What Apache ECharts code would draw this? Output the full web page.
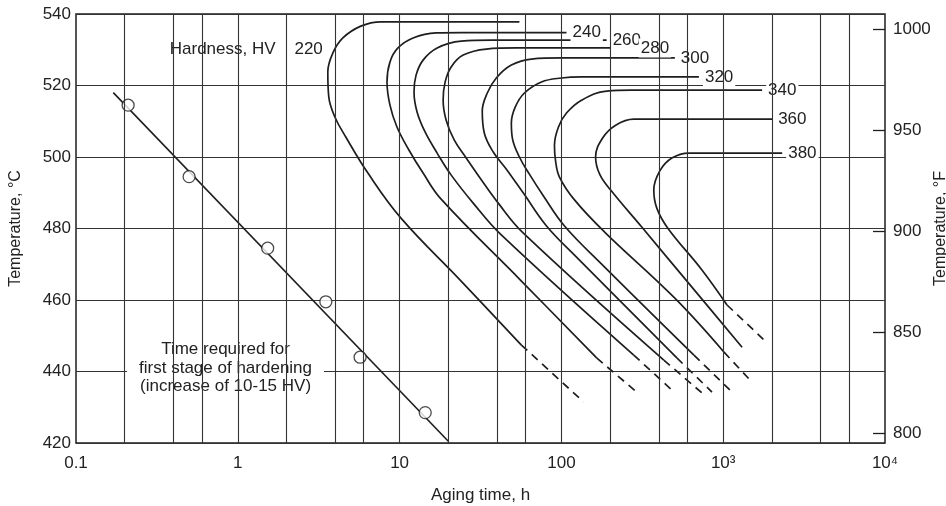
<!DOCTYPE html>
<html><head><meta charset="utf-8">
<script src="https://cdn.jsdelivr.net/npm/echarts@6/dist/echarts.min.js"></script>
<style>html,body{margin:0;padding:0;background:#fff}#c{width:946px;height:506px}</style>
</head><body><div id="c"></div>
<script>
// ---------- tick labels / axis values ----------
const xTickLabels = ['0.1', '1', '10', '100', '10³', '10⁴'];
const xGridValues = [0.2, 0.4, 0.6, 1, 2, 4, 6, 10, 20, 40, 60, 100, 200, 400, 600, 1000, 2000, 4000, 6000];
const fahrenheitTicks = [800, 850, 900, 950, 1000];
const hardnessTitle = 'Hardness, HV';
const noteLines = ['Time required for', 'first stage of hardening', '(increase of 10-15 HV)'];

// ---------- first stage of hardening ----------
const firstStageLineTime = [0.17, 20];
const firstStageLineTemp = [518, 420.5];
const firstStagePointTime = [0.21, 0.5, 1.53, 3.5, 5.7, 14.4];
const firstStagePointTemp = [514.5, 494.5, 474.5, 459.5, 444, 428.5];

// ---------- iso-hardness curves (from lower leg up to the top plateau) ----------
const c220Time = [56.6, 24.0, 10.2, 6.37, 4.65, 3.98, 3.65, 3.60, 3.87, 4.46, 5.76, 7.67, 13.6, 55];
const c220Temp = [447.4, 465.3, 482.9, 495.5, 505.6, 511.2, 516.8, 523.8, 529.1, 533.3, 536.6, 537.8, 537.8, 537.8];
const c220DashTime = [56.6, 137];
const c220DashTemp = [447.4, 431.5];

const c240Time = [165.1, 56.6, 18.06, 13.97, 11.44, 9.63, 8.72, 8.36, 8.72, 9.77, 12.11, 16.81, 24.03, 107.5];
const c240Temp = [443.8, 465.3, 488.2, 495.5, 501.9, 508.4, 514.5, 521.0, 526.6, 530.5, 533.3, 534.7, 534.8, 534.8];
const c240DashTime = [165.1, 296.3];
const c240DashTemp = [443.8, 434.0];

const c260Time = [279.9, 42.5, 28.5, 20.8, 17.06, 14.37, 12.82, 12.28, 12.64, 13.97, 17.06, 24.03, 36.9, 190.4];
const c260Temp = [444.6, 478.2, 487.1, 495.0, 501.1, 507.0, 512.6, 518.2, 522.9, 527.1, 530.5, 532.4, 532.7, 532.7];
const c260DashTime = [279.9, 481.6];
const c260DashTemp = [444.6, 434.8];

const c280Time = [429.5, 58.2, 40.7, 31.1, 25.8, 21.74, 19.40, 18.58, 19.12, 20.83, 24.72, 34.3, 52.7, 284.0];
const c280Temp = [443.2, 478.7, 487.1, 494.4, 499.7, 504.8, 510.3, 515.9, 521.0, 525.2, 528.5, 530.2, 530.5, 530.5];
const c280DashTime = [429.5, 738.9];
const c280DashTemp = [443.2, 434.0];

const c300Time = [517.0, 124.0, 80.9, 58.2, 45.7, 37.9, 33.37, 32.43, 34.83, 39.6, 49.05, 65.3, 100.1, 502.5];
const c300Temp = [443.8, 472.0, 480.7, 489.9, 496.6, 501.4, 506.7, 512.85, 517.9, 522.1, 525.7, 527.4, 527.7, 527.7];
const c300DashTime = [517.0, 852.3];
const c300DashTemp = [443.8, 434.25];

const c320Time = [659.2, 177.3, 104.5, 77.45, 63.4, 55.0, 49.76, 49.05, 51.9, 59.06, 75.3, 100.1, 133.2, 707.9];
const c320Temp = [444.6, 470.05, 480.7, 489.1, 495.2, 500.0, 505.3, 509.5, 514.0, 517.9, 521.0, 522.1, 522.4, 522.4];
const c320DashTime = [659.2, 1102];
const c320DashTemp = [444.6, 434.8];

const c340Time = [1012, 502.5, 185.0, 120.5, 97.3, 91.9, 90.6, 95.9, 107.5, 133.2, 190.4, 272.0, 1740];
const c340Temp = [445.4, 460.5, 479.0, 488.0, 494.4, 499.1, 503.3, 508.4, 512.3, 515.9, 518.45, 518.7, 518.7];
const c340DashTime = [1012, 1466];
const c340DashTemp = [445.4, 437.6];

const c360Time = [1308, 640.7, 313.8, 201.6, 172.3, 162.7, 179.8, 216.5, 279.9, 361.9, 2007];
const c360Temp = [446.8, 463.6, 480.4, 490.75, 495.2, 500.0, 505.3, 508.9, 510.6, 510.6, 510.6];
const c360DashTime = [];
const c360DashTemp = [];

const c380Time = [1056, 738.9, 454.8, 388.7, 372.4, 405.7, 481.6, 613.8, 738.9, 2315];
const c380Temp = [458.6, 468.4, 480.1, 485.7, 490.75, 496.1, 499.7, 501.1, 501.1, 501.1];
const c380DashTime = [1056, 1869];
const c380DashTemp = [458.6, 448.0];

const hardnessLevels = ['220', '240', '260', '280', '300', '320', '340', '360', '380'];
const curveTimes = [c220Time, c240Time, c260Time, c280Time, c300Time, c320Time, c340Time, c360Time, c380Time];
const curveTemps = [c220Temp, c240Temp, c260Temp, c280Temp, c300Temp, c320Temp, c340Temp, c360Temp, c380Temp];
const dashTimes = [c220DashTime, c240DashTime, c260DashTime, c280DashTime, c300DashTime, c320DashTime, c340DashTime, c360DashTime, c380DashTime];
const dashTemps = [c220DashTemp, c240DashTemp, c260DashTemp, c280DashTemp, c300DashTemp, c320DashTemp, c340DashTemp, c360DashTemp, c380DashTemp];

// ---------- chart ----------
const FONT = '"Liberation Sans", Arial, Helvetica, sans-serif';
const INK = '#1e1e1e';
const TXT = '#222';
const zip = (a, b) => a.map((v, i) => [v, b[i]]);
const plainText = { textBorderWidth: 0, textBorderColor: 'transparent', textShadowBlur: 0, textShadowColor: 'transparent', opacity: 1 };

const series = [];
// vertical grid lines (1-2-4-6 pattern)
series.push({
  type: 'line', data: [[1, 480]], showSymbol: false, lineStyle: { opacity: 0 }, silent: true, z: 1,
  markLine: {
    silent: true, symbol: ['none', 'none'], label: { show: false },
    lineStyle: { color: '#333', width: 1.1, type: 'solid' },
    data: xGridValues.map(v => ({ xAxis: v }))
  }
});
// text annotations with white boxes breaking the grid
series.push({
  type: 'scatter', z: 2, symbolSize: 0, silent: true, itemStyle: { color: TXT },
  data: [
    { value: [3.45, 530.2], label: Object.assign({ show: true, position: 'left', distance: 0,
      formatter: hardnessTitle + '    ' + hardnessLevels[0], fontSize: 17, color: TXT, fontFamily: FONT,
      backgroundColor: '#fff', padding: [13, 2, 9, 12] }, plainText) },
    { value: [0.84, 441], label: Object.assign({ show: true, position: 'inside', align: 'center', verticalAlign: 'middle',
      formatter: noteLines.join('\n'), fontSize: 17, lineHeight: 18.5, color: TXT, fontFamily: FONT,
      backgroundColor: '#fff', padding: [13, 12, 8, 12] }, plainText) }
  ]
});
// curves
hardnessLevels.forEach((h, i) => {
  series.push({
    type: 'line', name: h, data: zip(curveTimes[i], curveTemps[i]), smooth: 0.4,
    showSymbol: false, silent: true, z: 3,
    lineStyle: { color: INK, width: 1.7 },
    endLabel: i === 0 ? { show: false } : Object.assign({
      show: true, formatter: h, distance: 4, fontSize: 17, color: TXT, fontFamily: FONT,
      backgroundColor: '#fff', padding: [1, 2]
    }, plainText)
  });
  if (dashTimes[i].length) {
    series.push({
      type: 'line', data: zip(dashTimes[i], dashTemps[i]), showSymbol: false, silent: true, z: 3,
      lineStyle: { color: INK, width: 1.7, type: [8, 6] }
    });
  }
});
// first stage line + circles
series.push({
  type: 'line', data: zip(firstStageLineTime, firstStageLineTemp), showSymbol: false, silent: true, z: 3,
  lineStyle: { color: INK, width: 1.6 }
});
series.push({
  type: 'scatter', data: zip(firstStagePointTime, firstStagePointTemp), symbol: 'circle', symbolSize: 12,
  silent: true, z: 4, itemStyle: { color: '#fff', borderColor: INK, borderWidth: 1.3 }
});

const option = {
  animation: false,
  backgroundColor: '#fff',
  textStyle: { fontFamily: FONT },
  grid: { left: 76, right: 61, top: 14, bottom: 63, show: true, borderColor: INK, borderWidth: 1.5,
          backgroundColor: 'transparent', outerBoundsMode: 'none' },
  xAxis: {
    type: 'log', logBase: 10, min: 0.1, max: 10000,
    name: 'Aging time, h', nameLocation: 'middle', nameGap: 44,
    nameTextStyle: { fontSize: 17, color: TXT, fontFamily: FONT },
    axisLine: { show: false }, axisTick: { show: false }, splitLine: { show: false },
    axisLabel: { margin: 12, fontSize: 17, color: TXT, fontFamily: FONT,
      formatter: v => xTickLabels[Math.round(Math.log10(v)) + 1] }
  },
  yAxis: [{
    type: 'value', min: 420, max: 540, interval: 20,
    name: 'Temperature, °C', nameLocation: 'middle', nameRotate: 90, nameGap: 52,
    nameTextStyle: { fontSize: 16, color: TXT, fontFamily: FONT },
    axisLine: { show: false }, axisTick: { show: false },
    splitLine: { show: true, lineStyle: { color: '#333', width: 1.1 } },
    axisLabel: { margin: 5, fontSize: 17, color: TXT, fontFamily: FONT }
  }, {
    type: 'value', position: 'right', min: 795, max: 1007.5,
    name: 'Temperature, °F', nameLocation: 'middle', nameRotate: 90, nameGap: 48, nameMoveOverlap: false,
    nameTextStyle: { fontSize: 16, color: TXT, fontFamily: FONT },
    axisLine: { show: false }, splitLine: { show: false },
    axisTick: { show: true, inside: true, length: 12, customValues: fahrenheitTicks, lineStyle: { color: INK, width: 1.3 } },
    axisLabel: { margin: 8, fontSize: 17, color: TXT, fontFamily: FONT, customValues: fahrenheitTicks,
      formatter: v => String(v) }
  }],
  series: series
};
const chart = echarts.init(document.getElementById('c'), null, { renderer: 'canvas' });
chart.setOption(option);
</script></body></html>
